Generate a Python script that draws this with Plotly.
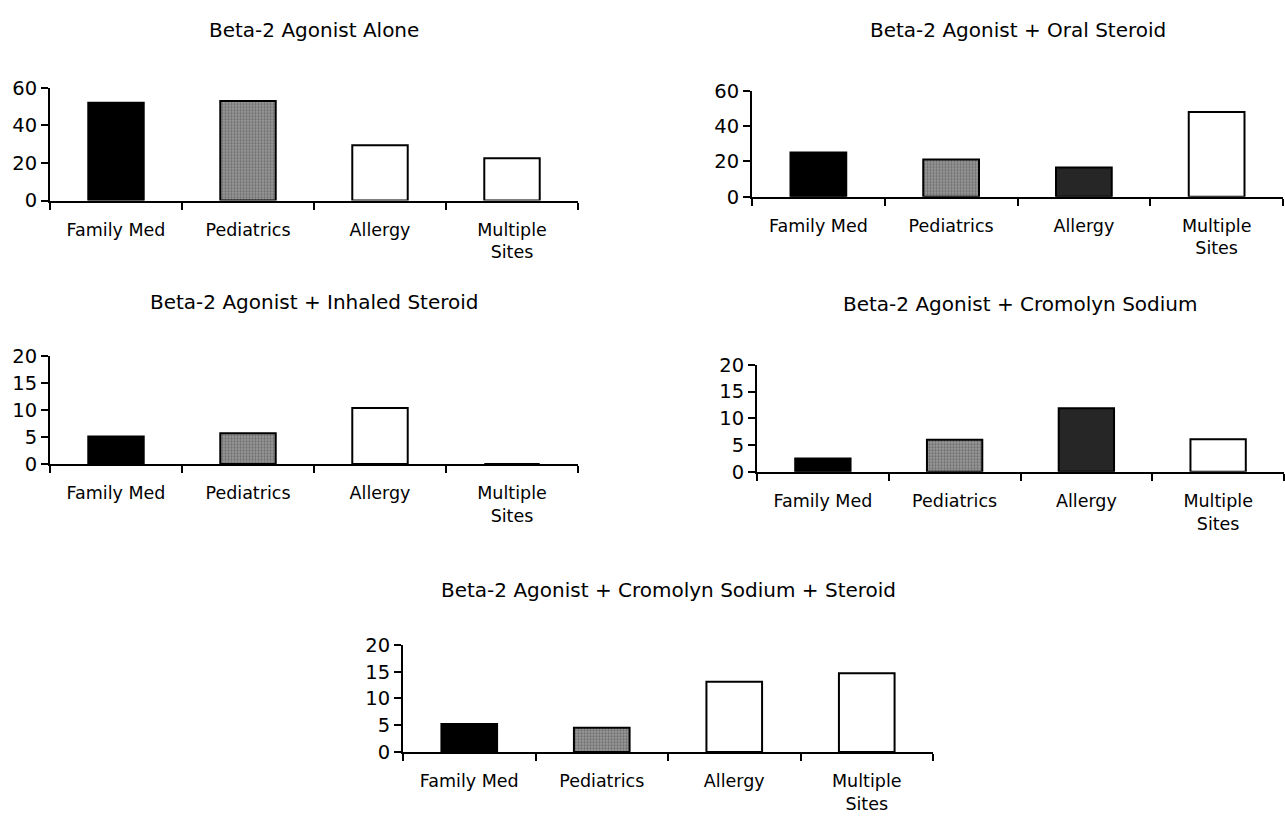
import plotly.graph_objects as go

W, H = 1285, 830

categories = ["Family Med", "Pediatrics", "Allergy", "Multiple Sites"]
tick_labels = ["Family Med", "Pediatrics", "Allergy", "Multiple<br>Sites"]

titles = [
    "Beta-2 Agonist Alone",
    "Beta-2 Agonist + Oral Steroid",
    "Beta-2 Agonist + Inhaled Steroid",
    "Beta-2 Agonist + Cromolyn Sodium",
    "Beta-2 Agonist + Cromolyn Sodium + Steroid",
]

alone = [52, 53, 29.5, 22.5]
oral_steroid = [25, 21, 16.5, 48]
inhaled_steroid = [5.1, 5.7, 10.4, 0]
cromolyn = [2.5, 6.0, 11.9, 6.1]
cromolyn_steroid = [5.2, 4.5, 13.1, 14.7]

series = [alone, oral_steroid, inhaled_steroid, cromolyn, cromolyn_steroid]

y_max = [60, 60, 20, 20, 20]
y_ticks = [[0, 20, 40, 60], [0, 20, 40, 60],
           [0, 5, 10, 15, 20], [0, 5, 10, 15, 20], [0, 5, 10, 15, 20]]

# plot boxes in pixels: (left, right, top, bottom)
boxes = [
    (50, 578, 79, 195),
    (752, 1283, 82, 191),
    (50, 578, 355, 466),
    (757, 1284, 364, 474),
    (403, 933, 652, 762),
]
title_y = [20, 20, 299, 301, 596]

# bar fill colours and stipple per category
light_colors = ["black", "#9a9a9a", "white", "white"]
dark_colors = ["black", "#9a9a9a", "#262626", "white"]
stipple = ["", ".", "", ""]
colors = [light_colors, dark_colors, light_colors, dark_colors, light_colors]

font = "DejaVu Sans"
fig = go.Figure()
layout = {}
annotations = []

for i, (vals, box) in enumerate(zip(series, boxes)):
    n = "" if i == 0 else str(i + 1)
    left, right, top, bottom = box
    fig.add_trace(go.Bar(
        x=categories, y=vals, width=0.42,
        xaxis="x" + n, yaxis="y" + n,
        marker=dict(
            color=colors[i],
            line=dict(color="black", width=2),
            pattern=dict(shape=stipple, fgcolor="#2a2a2a", size=3,
                         solidity=0.45, fillmode="overlay"),
        ),
        showlegend=False, hoverinfo="skip",
    ))
    layout["xaxis" + n] = dict(
        domain=[left / W, right / W], anchor="y" + n,
        type="category", categoryorder="array", categoryarray=categories,
        tickvals=categories, ticktext=tick_labels,
        range=[-0.5, 3.5], tickson="boundaries",
        ticks="outside", ticklen=7, tickwidth=2, tickcolor="black",
        ticklabelstandoff=12,
        showline=True, linecolor="black", linewidth=2,
        showgrid=False, zeroline=False,
        tickfont=dict(family=font, size=17.5, color="black"),
        fixedrange=True,
    )
    layout["yaxis" + n] = dict(
        domain=[1 - bottom / H, 1 - top / H], anchor="x" + n,
        range=[0, y_max[i]], tickvals=y_ticks[i],
        ticks="outside", ticklen=7, tickwidth=2, tickcolor="black",
        showline=True, linecolor="black", linewidth=2,
        showgrid=False, zeroline=False,
        tickfont=dict(family=font, size=19.5, color="black"),
        fixedrange=True,
    )
    annotations.append(dict(
        text=titles[i], x=(left + right) / 2 / W, y=1 - title_y[i] / H,
        xref="paper", yref="paper", xanchor="center", yanchor="middle",
        showarrow=False, font=dict(family=font, size=20, color="black"),
    ))

fig.update_layout(
    width=W, height=H,
    margin=dict(l=0, r=0, t=0, b=0),
    paper_bgcolor="white", plot_bgcolor="white",
    annotations=annotations,
    **layout,
)

fig.write_html("out.html")
